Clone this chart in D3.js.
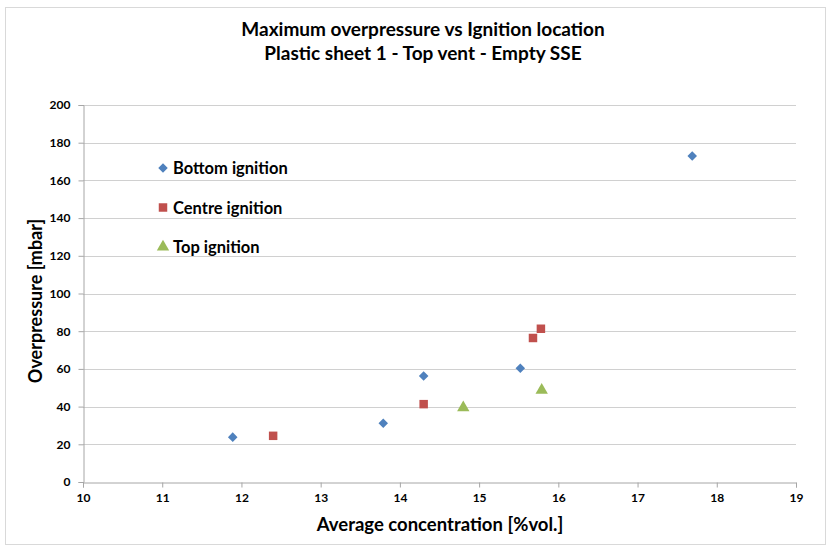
<!DOCTYPE html>
<html>
<head>
<meta charset="utf-8">
<script src="https://cdn.jsdelivr.net/npm/d3@7"></script>
<style>
  html, body { margin: 0; padding: 0; background: #fff; }
  svg { display: block; font-family: Lato, "Open Sans", "Liberation Sans", sans-serif; }
</style>
</head>
<body>
<svg id="chart" width="829" height="547"></svg>
<script>
// Series: average concentration [%vol.] and maximum overpressure [mbar]
const bottomX = [11.89, 13.79, 14.30, 15.52, 17.69];
const bottomY = [23.8, 31.2, 56.2, 60.3, 173.0];
const centreX = [12.40, 14.30, 15.68, 15.78];
const centreY = [24.5, 41.3, 76.4, 81.3];
const topX = [14.80, 15.79];
const topY = [39.4, 48.7];

const xTicks = [10, 11, 12, 13, 14, 15, 16, 17, 18, 19];
const yTicks = [0, 20, 40, 60, 80, 100, 120, 140, 160, 180, 200];

const seriesNames = ["Bottom ignition", "Centre ignition", "Top ignition"];
const seriesColors = ["#4F81BD", "#C0504D", "#9BBB59"];

const svg = d3.select("#chart");
const W = 829, H = 547;
const m = { left: 83, right: 33, top: 105, bottom: 65 };

// outer frame
svg.append("rect").attr("x", 5.5).attr("y", 7.5).attr("width", W - 9).attr("height", H - 10)
  .attr("fill", "none").attr("stroke", "#d9d9d9").attr("stroke-width", 1);

const x = d3.scaleLinear().domain([10, 19]).range([m.left, W - m.right]);
const y = d3.scaleLinear().domain([0, 200]).range([H - m.bottom, m.top]);

// horizontal gridlines
svg.append("g").selectAll("line").data(yTicks.filter(v => v > 0)).join("line")
  .attr("x1", x(10)).attr("x2", x(19))
  .attr("y1", d => Math.round(y(d)) + 0.5).attr("y2", d => Math.round(y(d)) + 0.5)
  .attr("stroke", "#d0d0d0").attr("stroke-width", 1.2);

// axes
const xAxis = svg.append("g")
  .attr("transform", `translate(0,${Math.round(y(0)) + 0.5})`)
  .call(d3.axisBottom(x).tickValues(xTicks).tickSize(5).tickPadding(6).tickFormat(d3.format("d")));
const yAxis = svg.append("g")
  .attr("transform", `translate(${Math.round(x(10)) + 0.5},0)`)
  .call(d3.axisLeft(y).tickValues(yTicks).tickSize(5).tickPadding(8).tickFormat(d3.format("d")));

[xAxis, yAxis].forEach(g => {
  g.select(".domain").attr("stroke", "#a6a6a6");
  g.selectAll(".tick line").attr("stroke", "#a6a6a6");
  g.selectAll(".tick text").attr("fill", "#000").attr("font-size", 12)
    .attr("font-weight", "bold").attr("font-family", "Lato, 'Open Sans', sans-serif");
});

// titles
svg.append("text").attr("x", 423).attr("y", 36).attr("text-anchor", "middle")
  .attr("font-size", 19).attr("font-weight", "bold")
  .text("Maximum overpressure vs Ignition location");
svg.append("text").attr("x", 423).attr("y", 60).attr("text-anchor", "middle")
  .attr("font-size", 19).attr("font-weight", "bold")
  .text("Plastic sheet 1 - Top vent - Empty SSE");

svg.append("text").attr("x", 440).attr("y", 531).attr("text-anchor", "middle")
  .attr("font-size", 18.5).attr("font-weight", "bold")
  .text("Average concentration [%vol.]");
svg.append("text").attr("transform", "translate(42,301) rotate(-90)").attr("text-anchor", "middle")
  .attr("font-size", 18).attr("font-weight", "bold")
  .text("Overpressure [mbar]");

// marker shapes
const shapes = [
  d3.symbol().type(d3.symbolDiamond2).size(58),
  d3.symbol().type(d3.symbolSquare).size(72),
  d3.symbol().type(d3.symbolTriangle).size(66)
];

const series = [
  { xs: bottomX, ys: bottomY },
  { xs: centreX, ys: centreY },
  { xs: topX, ys: topY }
];

series.forEach((s, i) => {
  svg.append("g").selectAll("path").data(s.xs.map((v, k) => [v, s.ys[k]])).join("path")
    .attr("transform", d => `translate(${x(d[0])},${y(d[1])})`)
    .attr("d", shapes[i]())
    .attr("fill", seriesColors[i]);
});

// legend
const legend = svg.append("g");
seriesNames.forEach((name, i) => {
  const ly = 168 + i * 39.5;
  legend.append("path").attr("transform", `translate(163,${ly})`)
    .attr("d", shapes[i]()).attr("fill", seriesColors[i]);
  legend.append("text").attr("x", 173).attr("y", ly + 6).attr("font-size", 16.5)
    .attr("font-weight", "bold").text(name);
});
</script>
</body>
</html>
